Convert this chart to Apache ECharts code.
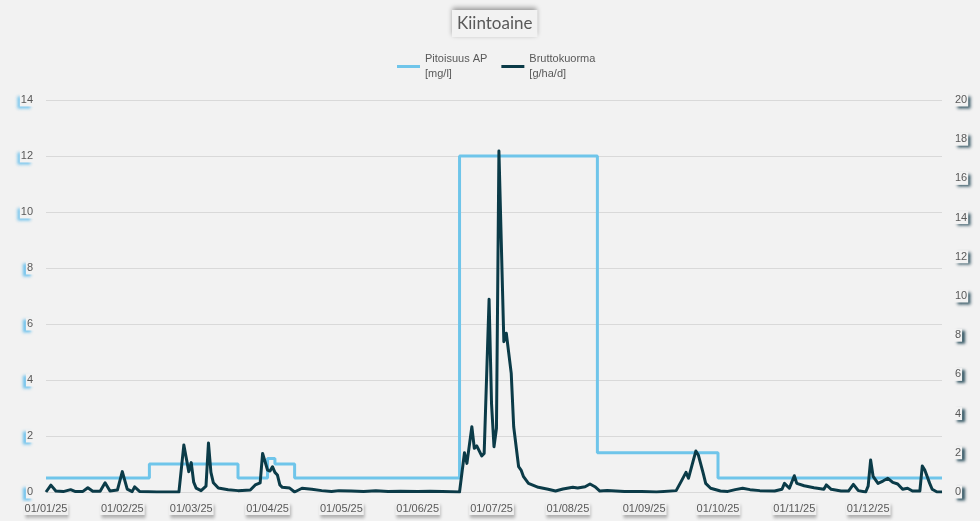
<!DOCTYPE html>
<html>
<head>
<meta charset="utf-8">
<script src="https://cdn.jsdelivr.net/npm/echarts@6/dist/echarts.min.js"></script>
<style>
  html, body { margin: 0; padding: 0; background: #f2f2f2; }
  #chart { width: 980px; height: 521px; }
</style>
</head>
<body>
<div id="chart"></div>
<script>
// Pitoisuus AP [mg/l] — step values, each holds until the next change date
const concDates = ['2025-01-01', '2025-02-12', '2025-03-20', '2025-04-01', '2025-04-04', '2025-04-12', '2025-06-18', '2025-08-13', '2025-10-01', '2025-12-31'];
const concValues = [0.5, 1.0, 0.5, 1.2, 1.0, 0.5, 12.0, 1.4, 0.5, 0.5];

// Bruttokuorma [g/ha/d]
const loadDates = [
  '2025-01-01', '2025-01-03', '2025-01-05', '2025-01-08', '2025-01-11', '2025-01-13', '2025-01-16', '2025-01-18', '2025-01-20',
  '2025-01-23', '2025-01-25', '2025-01-27', '2025-01-30', '2025-02-01', '2025-02-03', '2025-02-05', '2025-02-06', '2025-02-08',
  '2025-02-15', '2025-02-24', '2025-02-26', '2025-02-28', '2025-03-01', '2025-03-02', '2025-03-03', '2025-03-05', '2025-03-07',
  '2025-03-08', '2025-03-09', '2025-03-10', '2025-03-12', '2025-03-16', '2025-03-20', '2025-03-25', '2025-03-27', '2025-03-29',
  '2025-03-30', '2025-04-01', '2025-04-02', '2025-04-03', '2025-04-04', '2025-04-05', '2025-04-06', '2025-04-07', '2025-04-10',
  '2025-04-12', '2025-04-15', '2025-04-19', '2025-04-23', '2025-04-27', '2025-04-30', '2025-05-05', '2025-05-10', '2025-05-15',
  '2025-05-20', '2025-05-25', '2025-06-01', '2025-06-06', '2025-06-11', '2025-06-18', '2025-06-20', '2025-06-21', '2025-06-23',
  '2025-06-24', '2025-06-25', '2025-06-27', '2025-06-28', '2025-06-30', '2025-07-01', '2025-07-02', '2025-07-03', '2025-07-04',
  '2025-07-06', '2025-07-07', '2025-07-09', '2025-07-10', '2025-07-12', '2025-07-13', '2025-07-14', '2025-07-16', '2025-07-20',
  '2025-07-24', '2025-07-27', '2025-07-30', '2025-08-03', '2025-08-05', '2025-08-08', '2025-08-10', '2025-08-12', '2025-08-14',
  '2025-08-17', '2025-08-24', '2025-08-31', '2025-09-06', '2025-09-14', '2025-09-16', '2025-09-18', '2025-09-19', '2025-09-21',
  '2025-09-22', '2025-09-23', '2025-09-25', '2025-09-26', '2025-09-28', '2025-10-02', '2025-10-05', '2025-10-08', '2025-10-11',
  '2025-10-14', '2025-10-18', '2025-10-24', '2025-10-27', '2025-10-28', '2025-10-30', '2025-11-01', '2025-11-02', '2025-11-05',
  '2025-11-09', '2025-11-13', '2025-11-14', '2025-11-16', '2025-11-20', '2025-11-23', '2025-11-25', '2025-11-27', '2025-11-30',
  '2025-12-01', '2025-12-02', '2025-12-03', '2025-12-05', '2025-12-07', '2025-12-09', '2025-12-11', '2025-12-13', '2025-12-15',
  '2025-12-17', '2025-12-19', '2025-12-22', '2025-12-23', '2025-12-24', '2025-12-26', '2025-12-27', '2025-12-29', '2025-12-31'
];
const loadValues = [
  0.0, 0.35, 0.05, 0.02, 0.12, 0.02, 0.03, 0.22, 0.04,
  0.04, 0.47, 0.05, 0.1, 1.04, 0.15, 0.02, 0.26, 0.03,
  0.0, 0.0, 2.4, 1.04, 1.5, 0.5, 0.2, 0.07, 0.3,
  2.5, 1.0, 0.47, 0.2, 0.12, 0.07, 0.1, 0.36, 0.47,
  1.97, 1.12, 1.07, 1.29, 1.0, 0.87, 0.36, 0.24, 0.2,
  0.0, 0.19, 0.14, 0.07, 0.03, 0.07, 0.05, 0.03, 0.06,
  0.02, 0.04, 0.02, 0.04, 0.02, 0.0, 2.0, 1.46, 3.33,
  2.23, 2.35, 1.84, 1.97, 9.83, 4.5, 2.31, 3.25, 17.4,
  7.67, 8.1, 6.05, 3.33, 1.29, 1.12, 0.78, 0.44, 0.24,
  0.14, 0.05, 0.15, 0.24, 0.2, 0.27, 0.41, 0.27, 0.05,
  0.08, 0.03, 0.03, 0.0, 0.07, 0.53, 1.0, 0.7, 1.63,
  2.09, 1.89, 0.95, 0.44, 0.19, 0.05, 0.03, 0.12, 0.19,
  0.12, 0.07, 0.05, 0.14, 0.44, 0.19, 0.83, 0.44, 0.32,
  0.22, 0.14, 0.36, 0.14, 0.05, 0.05, 0.39, 0.07, 0.0,
  0.3, 1.63, 0.8, 0.44, 0.56, 0.7, 0.49, 0.41, 0.14,
  0.19, 0.05, 0.05, 1.33, 1.12, 0.44, 0.14, 0.0, 0.0
];

// Axis ranges and tick steps
const leftAxis = { min: 0, max: 14, step: 2 };
const rightAxis = { min: 0, max: 20, step: 2 };

const seriesNames = ['Pitoisuus AP\n[mg/l]', 'Bruttokuorma\n[g/ha/d]'];
const concColor = '#6fc5ea';
const loadColor = '#0b3b48';

function pad2(n) { return (n < 10 ? '0' : '') + n; }
function fmtDate(v) {
  const d = new Date(v);
  return pad2(d.getDate()) + '/' + pad2(d.getMonth() + 1) + '/' + String(d.getFullYear()).slice(2);
}

const textGrey = '#595959';
const DAY = 24 * 3600 * 1000;

const chart = echarts.init(document.getElementById('chart'), null, { renderer: 'canvas' });
chart.setOption({
  backgroundColor: '#f2f2f2',
  animation: false,
  title: {
    text: 'Kiintoaine',
    left: 452,
    top: 10,
    padding: [5, 5, 5, 5],
    backgroundColor: '#f2f2f2',
    shadowColor: 'rgba(0,0,0,0.4)',
    shadowBlur: 5,
    shadowOffsetY: -2,
    textStyle: { fontFamily: 'Lato', fontSize: 17, fontWeight: 'normal', color: textGrey }
  },
  legend: {
    top: 39,
    left: 392,
    icon: 'rect',
    itemWidth: 23,
    itemHeight: 3,
    itemGap: 14,
    data: [
      { name: seriesNames[0], itemStyle: { color: concColor } },
      { name: seriesNames[1], itemStyle: { color: loadColor } }
    ],
    textStyle: {
      fontFamily: 'Liberation Sans', fontSize: 11, color: textGrey, lineHeight: 15,
      padding: [15, 0, 0, 0]
    }
  },
  grid: { left: 46, right: 38, top: 100, bottom: 29 },
  xAxis: {
    type: 'time',
    min: '2025-01-01',
    max: '2025-12-31',
    maxInterval: 31 * DAY,
    minInterval: 28 * DAY,
    splitNumber: 12,
    axisLine: { show: true, lineStyle: { color: '#d9d9d9', width: 1 } },
    axisTick: { show: false },
    splitLine: { show: false },
    axisLabel: {
      formatter: fmtDate,
      color: textGrey,
      fontFamily: 'Liberation Sans',
      fontSize: 11,
      margin: 10,
      hideOverlap: false,
      showMinLabel: true,
      showMaxLabel: false,
      padding: [1, 1, 1, 1],
      backgroundColor: '#f0f0f0',
      shadowColor: 'rgba(0,0,0,0.28)',
      shadowBlur: 3,
      shadowOffsetX: 1,
      shadowOffsetY: 3
    }
  },
  yAxis: [
    {
      type: 'value',
      min: leftAxis.min, max: leftAxis.max, interval: leftAxis.step,
      axisLine: { show: false },
      axisTick: { show: false },
      splitLine: { lineStyle: { color: '#d9d9d9', width: 1 } },
      axisLabel: {
        color: textGrey, fontFamily: 'Liberation Sans', fontSize: 11, margin: 12,
        padding: [1, 1, 1, 1],
        backgroundColor: '#f2f2f2',
        shadowColor: 'rgba(100,190,235,0.9)',
        shadowBlur: 3,
        shadowOffsetX: -3,
        shadowOffsetY: 2
      }
    },
    {
      type: 'value',
      min: rightAxis.min, max: rightAxis.max, interval: rightAxis.step,
      axisLine: { show: false },
      axisTick: { show: false },
      splitLine: { show: false },
      axisLabel: {
        color: textGrey, fontFamily: 'Liberation Sans', fontSize: 11, margin: 12,
        padding: [1, 1, 1, 1],
        backgroundColor: '#f2f2f2',
        shadowColor: 'rgba(20,60,75,0.85)',
        shadowBlur: 3,
        shadowOffsetX: 3,
        shadowOffsetY: 2
      }
    }
  ],
  series: [
    {
      name: seriesNames[0],
      type: 'line',
      yAxisIndex: 0,
      step: 'end',
      symbol: 'none',
      lineStyle: { color: concColor, width: 3 },
      itemStyle: { color: concColor },
      data: concDates.map((d, i) => [d, concValues[i]])
    },
    {
      name: seriesNames[1],
      type: 'line',
      yAxisIndex: 1,
      symbol: 'none',
      lineStyle: { color: loadColor, width: 3, join: 'round' },
      itemStyle: { color: loadColor },
      data: loadDates.map((d, i) => [d, loadValues[i]])
    }
  ]
});
</script>
</body>
</html>
